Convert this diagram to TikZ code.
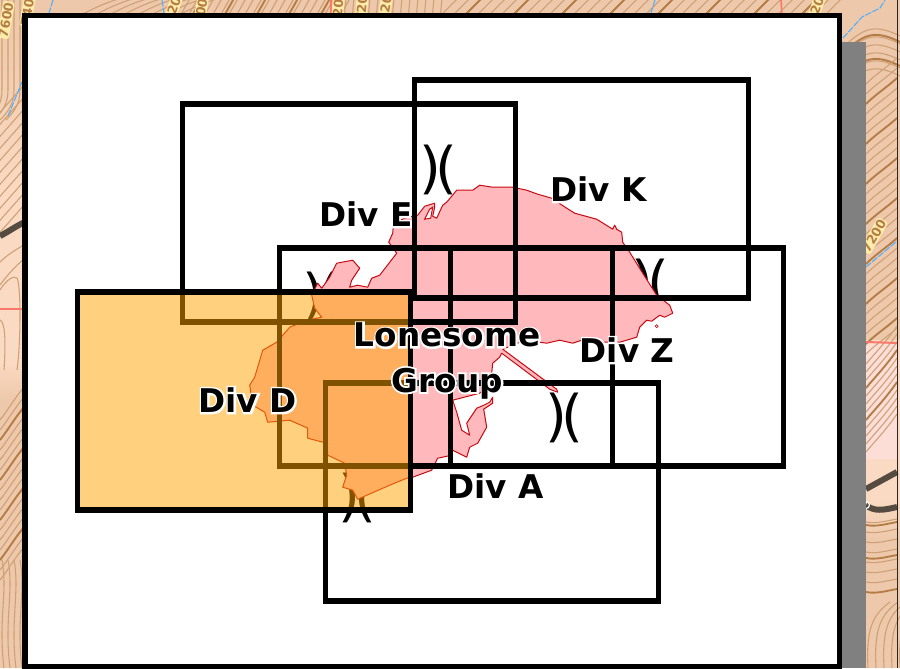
\documentclass[tikz,border=0pt]{standalone}
\usepackage{fontspec}
\setmainfont{DejaVu Sans}
\font\halofont="DejaVu Sans Bold:embolden=11;color=FFFFFF" at 24.5pt
\newcommand{\haloed}[1]{\makebox[0pt][l]{\halofont #1}#1}
\newcommand{\passmark}{)\kern-4.5pt(}
\usetikzlibrary{
  positioning % for the second line of the group label
}
\definecolor{mapbase}{RGB}{250,218,194}
\definecolor{mapdark}{RGB}{238,200,170}
\definecolor{mappink}{RGB}{252,222,215}
\definecolor{mapline}{RGB}{180,125,70}
\definecolor{mapsoft}{RGB}{205,160,118}
\definecolor{labelbg}{RGB}{255,236,170}
\definecolor{lakefill}{RGB}{255,184,188}
\definecolor{lakeedge}{RGB}{200,10,20}
\definecolor{divorange}{RGB}{255,165,0}
\definecolor{roadgrey}{RGB}{85,75,65}
\tikzset{
  divbox/.style={ % style for the division boxes
    draw=black,line width=4.1pt, % thick black outline
    line join=miter,
  },
  divlabel/.style={ % style for the division names
    inner sep=0pt,
    font=\fontsize{24.5}{24.5}\bfseries\selectfont,
  },
  bracket/.style={ % style for the )( marks
    inner sep=0pt,
    font=\fontsize{42}{44}\selectfont,
  },
  thinline/.style={mapsoft,line width=0.8pt}, % ordinary contour
  thickline/.style={mapline,line width=1.4pt}, % index contour
  stream/.style={blue!45!cyan!70!white,line width=0.8pt,dash pattern=on 5pt off 1pt},
  roadline/.style={roadgrey,line width=4.5pt},
  elevation/.style={ % style for the map's contour numbers
    inner sep=0.8pt,fill=labelbg,rounded corners=2pt,text=mapline,
    font=\fontsize{9.5}{9.5}\bfseries\selectfont,
  },
}
\begin{document}
\begin{tikzpicture}[x=0.75pt,y=-0.75pt]
  \useasboundingbox (0,0) rectangle (900,668);
  \begin{scope}
    \clip (0,0) rectangle (900,668);
    % map behind the sheet
    \fill[mapbase] (0,0) rectangle (900,668);
    \fill[mapdark] (0,0) rectangle (900,16);
    \shade[top color=mapdark,bottom color=mapbase] (0,16) rectangle (25,190);
    \shade[top color=mapbase,bottom color=mapdark] (0,362) rectangle (25,400);
    \fill[mapdark] (0,400) rectangle (25,668);
    \fill[mapdark] (842,0) rectangle (900,340);
    \fill[mappink] (866,343) rectangle (897,459);
    \shade[top color=mapbase,bottom color=mapdark] (866,500) rectangle (900,540);
    \fill[mapdark] (866,540) rectangle (900,668);
    % top strip
    \foreach \x in {70,84,...,180}
      \draw[thinline] (\x,20) .. controls (\x+18,12) and (\x+30,4) .. (\x+52,-2);
    \foreach \x in {170,178,...,340}
      \draw[thinline] (\x,20) .. controls (\x+4,12) and (\x+8,6) .. (\x+12,-2);
    \foreach \x in {190,222,...,340}
      \draw[thickline] (\x,20) .. controls (\x+4,12) and (\x+8,6) .. (\x+12,-2);
    \foreach \x in {344,352,...,440}
      \draw[thinline] (\x,20) -- (\x+2,-2);
    \foreach \x in {436,448,...,830}
      \draw[thinline] (\x,20) .. controls (\x+8,12) and (\x+14,6) .. (\x+22,-2);
    \foreach \x in {460,508,...,830}
      \draw[thickline] (\x,20) .. controls (\x+8,12) and (\x+14,6) .. (\x+22,-2);
    % top right corner
    \foreach \y in {24,32,...,64}
      \draw[thinline] (842,\y+24) .. controls (862,\y+6) and (872,\y-2) .. (900,\y+12);
    \foreach \y in {30,54}
      \draw[thickline] (842,\y+24) .. controls (862,\y+6) and (872,\y-2) .. (900,\y+12);
    % left strip
    \foreach \x in {2,8,14,20}
      \draw[thinline] (\x,0) -- (\x,90) .. controls (\x,104) and (\x-6,112) .. (\x-14,120);
    \foreach \y in {100,112,...,220}
      \draw[thinline] (-5,\y+18) -- (25,\y-16);
    \draw[thinline] (0,285) .. controls (8,274) and (16,266) .. (25,258);
    \draw[thinline] (0,262) .. controls (8,254) and (16,250) .. (25,244);
    \draw[thinline] (0,290) .. controls (6,280) and (14,275) .. (17,278)
      .. controls (21,285) and (21,340) .. (17,370);
    \draw[thinline] (0,320) .. controls (5,322) and (6,340) .. (4,370);
    \foreach \y in {410,420,...,570}
      \draw[thinline] (0,\y+10) .. controls (8,\y) and (16,\y-14) .. (25,\y-24);
    \foreach \y in {430,470,510,550}
      \draw[thickline] (0,\y+10) .. controls (8,\y) and (16,\y-14) .. (25,\y-24);
    \foreach \x in {2,8,14,20}
      \draw[thinline] (\x,560) .. controls (\x+6,590) and (\x-4,620) .. (\x+2,668);
    % right strip
    \foreach \y in {70,80,...,340}
      \draw[thinline] (866,\y+14) .. controls (876,\y+4) and (886,\y-2) .. (897,\y-12);
    \foreach \y in {90,130,...,330}
      \draw[thickline] (866,\y+14) .. controls (876,\y+4) and (886,\y-2) .. (897,\y-12);
    \foreach \y in {350,358,...,440}
      \draw[thinline] (866,\y+14) .. controls (876,\y+2) and (886,\y-8) .. (897,\y-24);
    \foreach \y in {374,406}
      \draw[thickline] (866,\y+14) .. controls (876,\y+2) and (886,\y-8) .. (897,\y-24);
    \foreach \y in {522,532,...,590}
      \draw[thinline] (866,\y) .. controls (876,\y+2) and (886,\y-1) .. (897,\y-3);
    \foreach \y in {525,558,592}
      \draw[thickline] (866,\y) .. controls (876,\y+2) and (886,\y-1) .. (897,\y-3);
    \foreach \x in {868,876,...,900}
      \draw[thinline] (\x,668) .. controls (\x-2,630) and (\x+4,615) .. (\x+22,602);
    % pink boundary lines
    \draw[red!45!mapbase,line width=1.5pt] (0,308.5) -- (25,308.5);
    \draw[red!45!mapbase,line width=1.5pt] (866,342) -- (897,343);
    \draw[red!45!mapbase,line width=1.8pt] (331,0) -- (331,16);
    \draw[red!45!mapbase,line width=1.2pt] (781,0) -- (782,16);
    % roads
    \draw[roadline] (0,236) .. controls (8,232) and (16,226) .. (25,222);
    \draw[roadline] (866,489) -- (897,472);
    \draw[roadline] (866,505) .. controls (874,512) and (884,510) .. (897,507);
    \draw[white,line width=0.9pt] (866,505) circle (3.5);
    % streams
    \draw[stream] (53,0) -- (49,13);
    \draw[stream] (162,0) -- (164,13);
    \draw[stream] (655,0) -- (651,13);
    \draw[stream] (8,116) -- (22,82);
    \draw[stream] (843,38) -- (862,17) -- (880,8) -- (885,0);
    \draw[stream] (866,267) -- (897,241);
    % contour numbers
    \node[elevation,rotate=80] (numA) at (6,20) {7600};
    \node[elevation,rotate=80] (numB) at (28,8) {7400};
    \node[elevation,rotate=70] (numC) at (174,6) {7200};
    \node[elevation,rotate=80] (numD) at (200,16) {7200};
    \node[elevation,rotate=85] (numE) at (338,8) {7200};
    \node[elevation,rotate=85] (numF) at (362,4) {7200};
    \node[elevation,rotate=80] (numG) at (386,4) {7200};
    \node[elevation,rotate=70] (numH) at (817,6) {7200};
    \node[elevation,rotate=60] (numI) at (874,236) {7200};
    \draw[black!85,line width=0.8pt] (897.5,0) -- (897.5,668);
    % sheet
    \fill[gray] (842,42) rectangle (866,668);
    \filldraw[divbox,fill=white] (25,15.5) rectangle (839.5,667);
  \end{scope}
  \begin{scope}[shift={(-0.3,0.2)}]
  % pass marks
  \node[bracket] (passK) at (439,170) {\passmark};
  \node[bracket] (passZ) at (651,284) {\passmark};
  \node[bracket] (passA) at (565,418) {\passmark};
  \node[bracket] (passE) at (322,297) {\passmark};
  \node[bracket] (passD) at (358,498) {\passmark};
  % lake
  \filldraw[fill=lakefill,draw=lakeedge,line width=0.75pt,line join=round]
    (389,242) -- (393,233) -- (394,220) -- (400,220) -- (408,217) -- (418,215)
    -- (425,206) -- (435,203) -- (435,207) -- (433,216) -- (437,218) -- (443,205)
    -- (447,202) -- (457,190) -- (473,190) -- (480,185) -- (493,187) -- (513,187)
    -- (527,190) -- (538,194) -- (552,198) -- (567,208) -- (575,213) -- (597,219)
    -- (613,229) -- (615,225) -- (617,229) -- (622,232) -- (623,242) -- (630,252)
    -- (643,273) -- (657,295) -- (670,305) -- (673,313) -- (665,317) -- (660,315)
    -- (652,321) -- (647,320) -- (640,327) -- (637,337) -- (620,342) -- (600,342)
    -- (582,340) -- (573,343) -- (560,340) -- (547,343) -- (525,340) -- (503,349)
    -- (557,389) -- (558,392) -- (550,389) -- (502,353) -- (500,357) -- (493,363)
    -- (492,373) -- (490,385) -- (480,393) -- (453,400) -- (457,412) -- (462,430)
    -- (470,435) -- (467,423) -- (477,408) -- (484,405) -- (490,402) -- (493,397)
    -- (493,403) -- (484,409) -- (487,427) -- (478,443) -- (470,447) -- (467,457)
    -- (453,450) -- (452,455) -- (438,458) -- (432,470) -- (413,477) -- (407,478)
    -- (390,485) -- (358,499) -- (353,490) -- (343,487) -- (347,475) -- (345,463)
    -- (328,455) -- (327,443) -- (308,438) -- (308,428) -- (290,420) -- (268,422)
    -- (265,412) -- (253,405) -- (250,385) -- (255,377) -- (263,350) -- (277,342)
    -- (290,327) -- (307,320) -- (322,317) -- (315,308) -- (312,295) -- (318,283)
    -- (322,288) -- (330,277) -- (337,263) -- (353,260) -- (360,268) -- (352,280)
    -- (350,287) -- (358,285) -- (368,287) -- (372,278) -- (380,275) -- (397,253)
    -- cycle;
  \filldraw[fill=white,draw=lakeedge,line width=0.75pt]
    (425,219) -- (430,209) -- (433,207) -- (431,218) -- cycle;
  \filldraw[fill=white,draw=lakeedge,line width=0.5pt] (657,326) circle (1.5);
  % division boxes
  \draw[divbox] (183,104) rectangle (516,322);
  \draw[divbox] (415,80) rectangle (749,298);
  \draw[divbox] (280,248) rectangle (613,466);
  \draw[divbox] (451,248) rectangle (784,466);
  \draw[divbox] (326,383) rectangle (659,601);
  \filldraw[divbox,fill=divorange,fill opacity=0.5,draw opacity=1] (78,292) rectangle (411,510);
  % labels
  \node[divlabel] (divE) at (366,214) {\haloed{Div E}};
  \node[divlabel] (divK) at (599,189) {\haloed{Div K}};
  \node[divlabel] (divZ) at (627.5,350) {\haloed{Div Z}};
  \node[divlabel] (divA) at (496,486) {\haloed{Div A}};
  \node[divlabel] (divD) at (248,400) {\haloed{Div D}};
  \node[divlabel] (groupA) at (447.5,335) {\haloed{Lonesome}};
  \node[divlabel,below=15pt of groupA] (groupB) {\haloed{Group}};
  \end{scope}
\end{tikzpicture}
\end{document}
